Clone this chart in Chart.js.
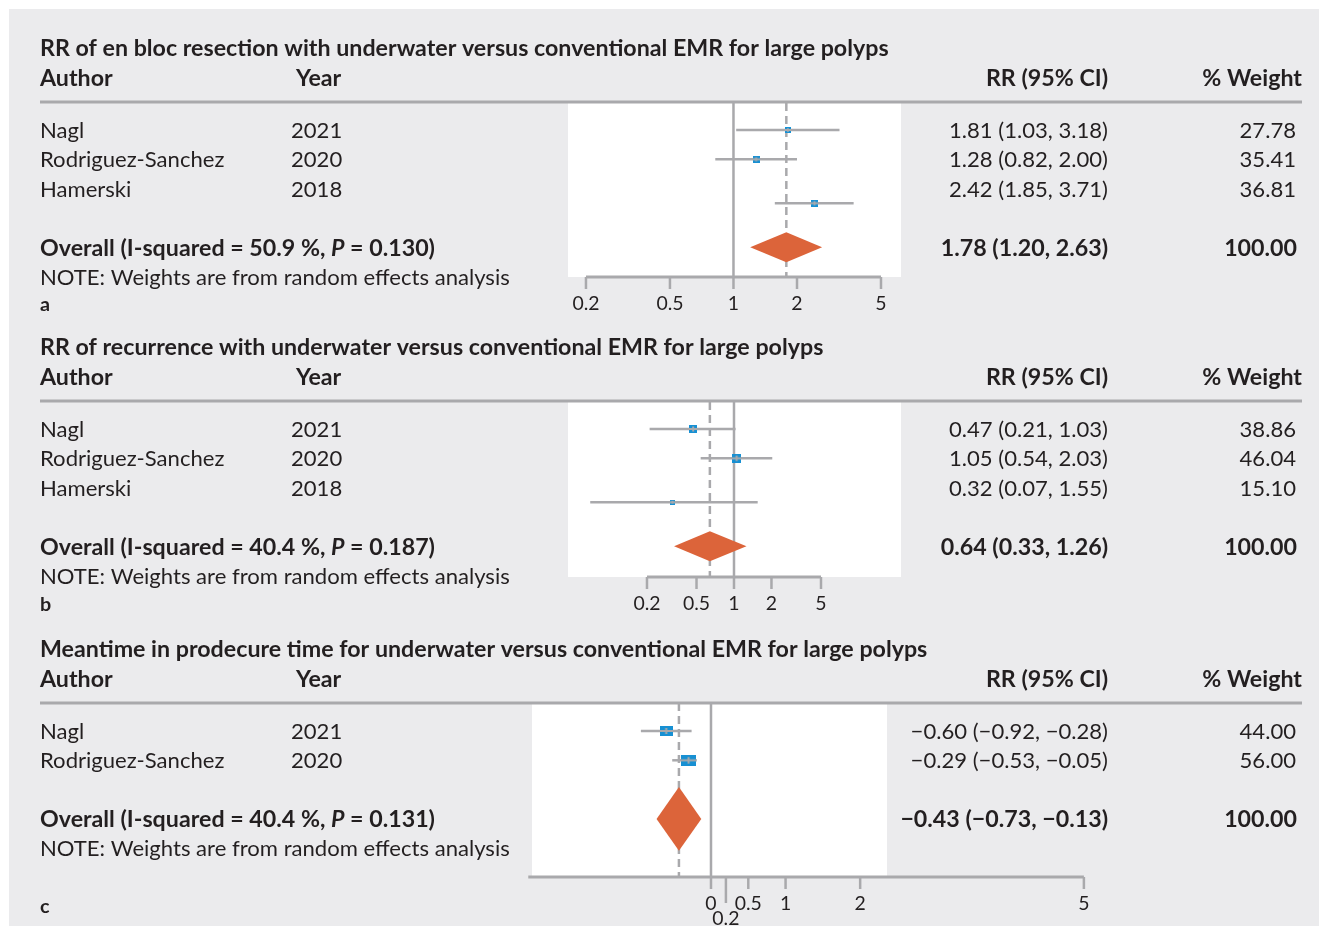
<!DOCTYPE html>
<html>
<head>
<meta charset="utf-8">
<script src="https://cdn.jsdelivr.net/npm/chart.js@4.4.1/dist/chart.umd.min.js"></script>
<style>
  html, body { margin: 0; padding: 0; background: #fff; }
  #bg { position: absolute; left: 9px; top: 9px; width: 1310px; height: 917px; background: #ebebed; }
  canvas.fp { position: absolute; left: 0; top: 0; }
</style>
</head>
<body>
<div id="bg"></div>
<canvas id="chartA" class="fp" width="1319" height="926"></canvas>
<canvas id="chartB" class="fp" width="1319" height="926"></canvas>
<canvas id="chartC" class="fp" width="1319" height="926"></canvas>
<script>
// ---- data ----
const authors = ['Nagl', 'Rodriguez-Sanchez', 'Hamerski'];
const years = ['2021', '2020', '2018'];

// a: en bloc resection (CI ends as plotted in the figure)
const rrEnBloc = [1.81, 1.28, 2.42];
const loEnBloc = [1.03, 0.82, 1.57];
const hiEnBloc = [3.18, 2.00, 3.71];
const ciTextEnBloc = ['1.81 (1.03, 3.18)', '1.28 (0.82, 2.00)', '2.42 (1.85, 3.71)'];
const weightEnBloc = [27.78, 35.41, 36.81];
const overallEnBloc = [1.78, 1.20, 2.63];
const rowsEnBloc = [1, 2, 3.5];

// b: recurrence
const rrRecur = [0.47, 1.05, 0.32];
const loRecur = [0.21, 0.54, 0.07];
const hiRecur = [1.03, 2.03, 1.55];
const ciTextRecur = ['0.47 (0.21, 1.03)', '1.05 (0.54, 2.03)', '0.32 (0.07, 1.55)'];
const weightRecur = [38.86, 46.04, 15.10];
const overallRecur = [0.64, 0.33, 1.26];
const rowsRecur = [1, 2, 3.5];

// c: procedure time (plotted CI as drawn in the figure)
const mdTime = [-0.60, -0.30];
const loTime = [-0.94, -0.52];
const hiTime = [-0.26, -0.19];
const ciTextTime = ['\u22120.60 (\u22120.92, \u22120.28)', '\u22120.29 (\u22120.53, \u22120.05)'];
const weightTime = [44.00, 56.00];
const overallTime = [-0.43, -0.73, -0.13];
const rowsTime = [1, 2];

const ticksRR = [0.2, 0.5, 1, 2, 5];
const ticksTime = [0, 0.2, 0.5, 1, 2, 5];

// ---- style ----
const fontFamily = 'Lato, "Noto Sans", sans-serif';
const textColor = '#231f20';
const lineGray = '#a9a9ac';
const boxBlue = '#1790d3';
const diamondOrange = '#dc643a';
const rowStep = 29.3;

function fitSize(text, weight, target) {
  const g = document.createElement('canvas').getContext('2d');
  g.font = weight + ' 100px ' + fontFamily;
  return 100 * target / g.measureText(text).width;
}
const regSize = fitSize('NOTE: Weights are from random effects analysis', 'normal', 470);
const boldSize = fitSize('RR of en bloc resection with underwater versus conventional EMR for large polyps', 'bold', 849);
const tickSize = regSize * 0.88;

function font(style, size) { return style + ' ' + size.toFixed(2) + 'px ' + fontFamily; }

function makeBox(w, h) {
  const c = document.createElement('canvas');
  c.width = Math.max(4, Math.round(w));
  c.height = Math.max(4, Math.round(h));
  const g = c.getContext('2d');
  g.fillStyle = boxBlue;
  g.fillRect(0, 0, c.width, c.height);
  g.strokeStyle = lineGray;
  g.lineWidth = 2;
  g.beginPath();
  g.moveTo(0, c.height / 2); g.lineTo(c.width, c.height / 2);
  const vh = Math.max(1.5, c.height * 0.3);
  g.moveTo(c.width / 2, c.height / 2 - vh); g.lineTo(c.width / 2, c.height / 2 + vh);
  g.stroke();
  return c;
}

const panels = [
  { id: 'chartA', title: 'RR of en bloc resection with underwater versus conventional EMR for large polyps', letter: 'a',
    est: rrEnBloc, lo: loEnBloc, hi: hiEnBloc, ciText: ciTextEnBloc, weight: weightEnBloc, overall: overallEnBloc,
    overallText: '1.78 (1.20, 2.63)', i2: '50.9', p: '0.130', rows: rowsEnBloc, overallRow: 5, diamondHalf: 0.51,
    xType: 'logarithmic', xMin: 0.1644, xMax: 6.22, ticks: ticksRR, axisFrom: 0.2, axisTo: 5, nullValue: 1,
    area: { left: 568, right: 901, top: 103, bottom: 277 }, row1: 130, letterY: 304, boxK: 1.15, boxAspect: 1 },
  { id: 'chartB', title: 'RR of recurrence with underwater versus conventional EMR for large polyps', letter: 'b',
    est: rrRecur, lo: loRecur, hi: hiRecur, ciText: ciTextRecur, weight: weightRecur, overall: overallRecur,
    overallText: '0.64 (0.33, 1.26)', i2: '40.4', p: '0.187', rows: rowsRecur, overallRow: 5, diamondHalf: 0.51,
    xType: 'logarithmic', xMin: 0.0464, xMax: 21.96, ticks: ticksRR, axisFrom: 0.2, axisTo: 5, nullValue: 1,
    area: { left: 568, right: 901, top: 402, bottom: 577 }, row1: 429, letterY: 604, boxK: 1.3, boxAspect: 1 },
  { id: 'chartC', title: 'Meantime in prodecure time for underwater versus conventional EMR for large polyps', letter: 'c',
    est: mdTime, lo: loTime, hi: hiTime, ciText: ciTextTime, weight: weightTime, overall: overallTime,
    overallText: '\u22120.43 (\u22120.73, \u22120.13)', i2: '40.4', p: '0.131', rows: rowsTime, overallRow: 4, diamondHalf: 1.09,
    xType: 'linear', xMin: -2.40, xMax: 2.36, ticks: ticksTime, axisFrom: -2.45, axisTo: 5, nullValue: 0,
    area: { left: 532, right: 887, top: 703, bottom: 877 }, row1: 731, letterY: 906, boxK: 2.0, boxAspect: 0.72 }
];

const panelById = {};
panels.forEach(p => { panelById[p.id] = p; });

function drawParts(ctx, parts, x, y) {
  let cx = x;
  parts.forEach(([str, style, size]) => {
    ctx.font = font(style, size);
    ctx.fillText(str, cx, y);
    cx += ctx.measureText(str).width;
  });
}

const forestPlugin = {
  id: 'forestPlugin',
  beforeDraw(chart) {
    const a = chart.chartArea, ctx = chart.ctx;
    ctx.save();
    ctx.fillStyle = '#ffffff';
    ctx.fillRect(a.left, a.top, a.right - a.left, a.bottom - a.top);
    ctx.restore();
  },
  afterDatasetsDraw(chart) {
    const p = panelById[chart.canvas.id];
    const x = chart.scales.x, a = chart.chartArea, ctx = chart.ctx;
    const y0 = a.bottom;
    ctx.save();
    ctx.strokeStyle = lineGray;
    ctx.lineWidth = 3;
    ctx.beginPath();
    ctx.moveTo(x.getPixelForValue(p.axisFrom), y0);
    ctx.lineTo(x.getPixelForValue(p.axisTo), y0);
    ctx.stroke();
    ctx.fillStyle = textColor;
    ctx.font = font('normal', tickSize);
    ctx.textAlign = 'center';
    ctx.textBaseline = 'middle';
    let lastRight = -1e9;
    p.ticks.forEach(t => {
      const px = x.getPixelForValue(t);
      const label = String(t);
      const w = ctx.measureText(label).width;
      const low = px - w / 2 < lastRight + 2;
      ctx.lineWidth = 2.5;
      ctx.beginPath();
      ctx.moveTo(px, y0);
      ctx.lineTo(px, y0 + (low ? 26 : 12));
      ctx.stroke();
      ctx.fillText(label, px, y0 + (low ? 42 : 27));
      if (!low) lastRight = px + w / 2;
    });
    ctx.restore();
  },
  afterDraw(chart) {
    const p = panelById[chart.canvas.id];
    const ctx = chart.ctx, ys = chart.scales.y;
    ctx.save();
    ctx.fillStyle = textColor;
    ctx.textBaseline = 'middle';
    ctx.textAlign = 'left';
    const titleY = p.row1 - 81, headY = p.row1 - 51, sepY = p.row1 - 28;
    ctx.font = font('bold', boldSize);
    ctx.fillText(p.title, 40, titleY);
    ctx.fillText('Author', 40, headY);
    ctx.fillText('Year', 296, headY);
    ctx.textAlign = 'right';
    ctx.fillText('RR (95% CI)', 1108, headY);
    ctx.fillText('% Weight', 1302, headY);
    ctx.strokeStyle = lineGray;
    ctx.lineWidth = 3;
    ctx.beginPath();
    ctx.moveTo(40, sepY); ctx.lineTo(1302, sepY);
    ctx.stroke();

    ctx.font = font('normal', regSize);
    p.est.forEach((e, i) => {
      const ry = ys.getPixelForValue(i + 1) + 1;
      ctx.textAlign = 'left';
      ctx.fillText(authors[i], 40, ry);
      ctx.fillText(years[i], 291, ry);
      ctx.textAlign = 'right';
      ctx.fillText(p.ciText[i], 1108, ry);
      ctx.fillText(p.weight[i].toFixed(2), 1296, ry);
    });

    const oy = ys.getPixelForValue(p.overallRow) + 1;
    ctx.textAlign = 'left';
    drawParts(ctx, [
      ['Overall (I-squared = ' + p.i2 + ' %, ', 'bold', boldSize],
      ['P', 'italic bold', boldSize],
      [' = ' + p.p + ')', 'bold', boldSize]
    ], 40, oy);
    ctx.textAlign = 'right';
    ctx.font = font('bold', boldSize);
    ctx.fillText(p.overallText, 1108, oy);
    ctx.fillText('100.00', 1297, oy);

    ctx.textAlign = 'left';
    ctx.font = font('normal', regSize);
    ctx.fillText('NOTE: Weights are from random effects analysis', 40, ys.getPixelForValue(p.overallRow + 1) + 1);
    ctx.font = font('bold', boldSize * 0.85);
    ctx.fillText(p.letter, 40, p.letterY + 1);
    ctx.restore();
  }
};

panels.forEach(p => {
  const yMin = 1 + (p.area.top - p.row1) / rowStep;
  const yMax = 1 + (p.area.bottom - p.row1) / rowStep;
  const [oe, ol, oh] = p.overall;
  const dr = p.overallRow, dh = p.diamondHalf;
  const datasets = [];
  datasets.push({ data: [{ x: p.nullValue, y: yMin }, { x: p.nullValue, y: yMax }],
    borderColor: lineGray, borderWidth: 2.5, pointRadius: 0, order: 20 });
  datasets.push({ data: [{ x: oe, y: yMin }, { x: oe, y: yMax }],
    borderColor: lineGray, borderWidth: 2.5, borderDash: [8, 5], pointRadius: 0, order: 19 });
  datasets.push({ data: [{ x: ol, y: dr }, { x: oe, y: dr - dh }, { x: oh, y: dr }, { x: oe, y: dr + dh }, { x: ol, y: dr }],
    fill: 'shape', backgroundColor: diamondOrange, borderColor: 'rgba(0,0,0,0)', borderWidth: 1, pointRadius: 0, order: 15 });
  p.est.forEach((e, i) => {
    datasets.push({ data: [{ x: p.lo[i], y: p.rows[i] }, { x: p.hi[i], y: p.rows[i] }],
      borderColor: lineGray, borderWidth: 2.5, pointRadius: 0, order: 12 });
  });
  datasets.push({ data: p.est.map((e, i) => ({ x: e, y: p.rows[i] })), showLine: false,
    pointStyle: p.weight.map(w => { const s = p.boxK * Math.sqrt(w); return makeBox(s, s * p.boxAspect); }),
    pointRadius: 5, order: 10 });

  new Chart(document.getElementById(p.id), {
    type: 'line',
    data: { datasets: datasets },
    plugins: [forestPlugin],
    options: {
      responsive: false,
      animation: false,
      devicePixelRatio: 1,
      layout: { padding: { left: p.area.left, right: 1319 - p.area.right, top: p.area.top, bottom: 926 - p.area.bottom } },
      elements: { line: { tension: 0 } },
      plugins: { legend: { display: false }, tooltip: { enabled: false } },
      scales: {
        x: { type: p.xType, min: p.xMin, max: p.xMax, display: false },
        y: { type: 'linear', min: yMin, max: yMax, reverse: true, display: false }
      }
    }
  });
});
</script>
</body>
</html>
